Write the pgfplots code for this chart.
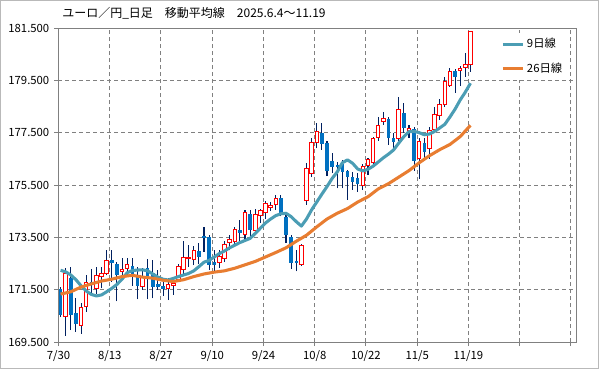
\documentclass[border=0pt]{standalone}
\usepackage{fontspec}
\setmainfont{Noto Sans CJK JP}
\usepackage{pgfplots}
\usepackage{pgfplotstable}
\pgfplotsset{compat=1.18}
\definecolor{maA}{RGB}{75,157,180}
\definecolor{maB}{RGB}{232,125,49}
\definecolor{upred}{RGB}{255,0,0}
\definecolor{dnblue}{RGB}{0,112,192}
\definecolor{wickc}{RGB}{0,32,96}
\definecolor{gridgray}{RGB}{128,128,128}

\pgfplotstableread{
i o h l c
0 171.52 171.60 170.45 170.55
1 170.47 172.32 169.74 172.10
2 171.95 172.38 169.95 170.55
3 170.62 171.20 169.90 170.20
4 170.12 171.00 169.82 170.83
5 170.85 172.05 170.65 171.78
6 171.78 172.30 171.35 171.68
7 171.55 172.35 171.35 172.05
8 172.00 172.35 171.55 172.13
9 172.10 173.00 172.05 172.62
10 172.63 173.00 171.80 172.53
11 172.48 172.55 171.05 172.06
12 172.19 172.70 171.95 172.29
13 172.32 172.70 172.00 172.48
14 172.40 172.70 171.65 171.97
15 171.97 172.35 171.13 171.65
16 171.62 172.32 171.50 171.97
17 172.32 172.66 171.13 171.97
18 172.13 172.63 171.17 171.62
19 171.70 172.25 171.49 171.62
20 171.65 171.94 171.26 171.53
21 171.53 171.95 171.10 171.70
22 171.65 171.95 171.30 171.75
23 171.90 172.50 171.80 172.38
24 172.28 173.37 172.10 172.74
25 172.68 173.20 172.38 172.72
26 172.66 173.17 172.44 172.99
27 172.99 173.30 172.50 172.74
28 173.55 173.91 172.95 173.49
29 173.50 173.60 172.25 172.44
30 172.57 173.02 172.13 172.44
31 172.55 173.00 172.32 172.76
32 172.70 173.35 172.55 173.24
33 173.30 173.60 173.00 173.40
34 173.33 173.91 173.20 173.81
35 173.78 174.15 173.35 173.68
36 173.59 174.55 173.45 174.44
37 174.38 174.55 173.50 173.78
38 173.78 174.60 173.65 174.38
39 174.32 174.60 174.05 174.51
40 174.44 174.90 174.20 174.80
41 174.65 174.85 174.50 174.70
42 174.76 175.10 174.55 174.99
43 174.99 175.12 174.30 174.35
44 174.29 174.40 173.30 173.59
45 173.50 173.60 172.30 172.53
46 172.61 173.00 172.20 172.53
47 172.48 173.25 172.40 173.17
48 174.89 176.33 174.74 176.14
49 175.95 177.30 175.80 177.13
50 177.13 177.88 176.90 177.56
51 177.50 177.88 176.84 177.06
52 177.12 177.20 175.84 176.05
53 176.43 176.71 175.95 176.20
54 176.27 176.39 175.37 176.20
55 176.30 176.46 175.37 176.01
56 176.04 176.07 174.93 175.82
57 175.79 176.01 175.31 175.63
58 175.76 175.95 175.25 175.54
59 175.47 176.30 175.30 176.22
60 176.25 176.55 175.90 176.46
61 176.35 177.35 176.20 177.29
62 177.32 178.11 177.20 177.79
63 177.92 178.30 177.80 178.05
64 178.02 178.10 177.03 177.29
65 177.29 177.50 176.84 177.16
66 177.29 178.88 177.20 178.37
67 178.26 178.62 177.50 177.67
68 177.58 177.80 177.30 177.67
69 177.64 177.70 176.05 176.43
70 176.50 177.30 175.73 177.16
71 177.10 177.30 176.55 176.77
72 176.90 177.70 176.50 177.60
73 177.63 178.47 177.55 178.20
74 178.15 178.80 178.00 178.58
75 178.56 179.64 178.50 179.45
76 179.32 179.96 179.25 179.83
77 179.86 179.95 179.03 179.62
78 179.86 180.05 179.28 179.96
79 180.00 180.53 179.64 180.11
80 180.12 181.40 179.83 181.36
}\candles

\pgfplotstableread{
i v
0 172.24
1 172.18
2 172.06
3 171.88
4 171.65
5 171.45
6 171.32
7 171.26
8 171.30
9 171.42
10 171.55
11 171.70
12 171.90
13 172.15
14 172.23
15 172.25
16 172.26
17 172.22
18 172.10
19 171.98
20 171.90
21 171.87
22 171.93
23 172.00
24 172.06
25 172.12
26 172.22
27 172.38
28 172.55
29 172.62
30 172.75
31 172.88
32 172.98
33 173.10
34 173.20
35 173.30
36 173.38
37 173.46
38 173.65
39 173.85
40 174.05
41 174.20
42 174.33
43 174.40
44 174.42
45 174.29
46 174.10
47 173.93
48 174.20
49 174.55
50 174.85
51 175.15
52 175.44
53 175.75
54 176.00
55 176.35
56 176.46
57 176.33
58 176.11
59 176.04
60 176.10
61 176.22
62 176.38
63 176.54
64 176.68
65 176.84
66 177.10
67 177.35
68 177.54
69 177.55
70 177.50
71 177.42
72 177.45
73 177.55
74 177.68
75 177.82
76 178.10
77 178.40
78 178.75
79 179.05
80 179.39
}\maNine

\pgfplotstableread{
i v
0 171.33
2 171.42
4 171.60
6 171.72
8 171.83
10 171.90
12 172.00
14 172.05
16 171.98
18 171.94
20 171.86
22 171.81
24 171.88
26 172.00
28 172.10
30 172.17
32 172.22
34 172.32
36 172.45
38 172.58
40 172.75
42 172.92
44 173.10
46 173.35
48 173.58
50 173.90
52 174.20
54 174.42
56 174.60
58 174.85
60 175.05
62 175.35
64 175.55
66 175.80
68 176.05
70 176.35
72 176.62
74 176.85
76 177.05
78 177.35
80 177.78
}\maTwentySix

\begin{document}
\begin{tikzpicture}
\useasboundingbox (0,0) rectangle (449.25pt,276.75pt);
\draw[gray!55, line width=0.75pt] (0.375pt,0.375pt) rectangle (448.875pt,276.375pt);
\node[anchor=west, inner sep=0pt, font=\fontsize{9}{10}\selectfont] at (46.5pt,267pt) {ユーロ／円\_日足　移動平均線　2025.6.4〜11.19};
\begin{axis}[
  at={(43.5pt,20.25pt)}, anchor=south west,
  scale only axis, width=388.5pt, height=235.5pt,
  xmin=-0.5, xmax=100.6, ymin=169.5, ymax=181.5,
  xtick={-0.4,9.6,19.6,29.6,39.6,49.6,59.6,69.6,79.6,89.6,99.6},
  xticklabels={7/30,8/13,8/27,9/10,9/24,10/8,10/22,11/5,11/19,,},
  ytick={169.5,171.5,173.5,175.5,177.5,179.5,181.5},
  yticklabel style={/pgf/number format/.cd, fixed, fixed zerofill, precision=3, 1000 sep={}},
  /pgf/number format/assume math mode=true,
  tick label style={font=\fontsize{8.5}{10}\selectfont, text=black},
  xtick pos=bottom, ytick pos=left,
  tick align=outside, major tick length=3pt,
  tick style={gridgray, line width=0.75pt},
  axis line style={gridgray, line width=0.75pt},
  grid=major,
  major grid style={gridgray, line width=0.75pt, dash pattern=on 3pt off 2.25pt},
  legend cell align=left,
  legend style={at={(0.85,0.985)}, anchor=north west, draw=none, fill=white,
    font=\fontsize{8.5}{10}\selectfont, row sep=6pt, inner sep=2pt},
  legend image code/.code={\draw[#1] (0pt,0pt) -- (15pt,0pt);},
]
\pgfplotsforeachungrouped \k in {0,...,80}{%
  \pgfplotstablegetelem{\k}{o}\of\candles \let\vO\pgfplotsretval
  \pgfplotstablegetelem{\k}{h}\of\candles \let\vH\pgfplotsretval
  \pgfplotstablegetelem{\k}{l}\of\candles \let\vL\pgfplotsretval
  \pgfplotstablegetelem{\k}{c}\of\candles \let\vC\pgfplotsretval
  \pgfmathsetmacro\xl{\k-0.34}%
  \pgfmathsetmacro\xr{\k+0.34}%
  \pgfmathtruncatemacro\up{\vC>=\vO ? 1 : 0}%
  \ifnum\up=1
    \edef\temp{\noexpand\addplot[forget plot, wickc, line width=0.8pt] coordinates {(\k,\vL) (\k,\vH)};
      \noexpand\addplot[forget plot, draw=upred, fill=white, line width=0.75pt] coordinates {(\xl,\vO) (\xr,\vO) (\xr,\vC) (\xl,\vC)} -- cycle;}%
  \else
    \edef\temp{\noexpand\addplot[forget plot, wickc, line width=0.8pt] coordinates {(\k,\vL) (\k,\vH)};
      \noexpand\addplot[forget plot, draw=none, fill=dnblue] coordinates {(\xl,\vO) (\xr,\vO) (\xr,\vC) (\xl,\vC)} -- cycle;}%
  \fi
  \temp
}
\addplot[maA, line width=2.3pt, line join=round] table[x=i, y=v] {\maNine};
\addlegendentry{9日線}
\addplot[maB, line width=2.3pt, line join=round] table[x=i, y=v] {\maTwentySix};
\addlegendentry{26日線}
\end{axis}
\end{tikzpicture}
\end{document}
